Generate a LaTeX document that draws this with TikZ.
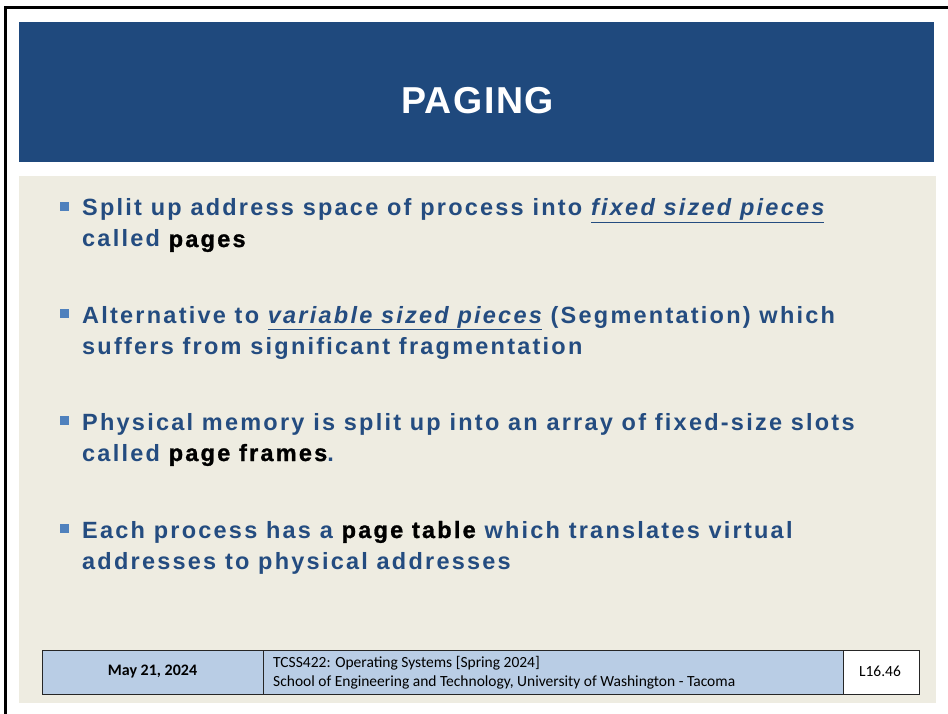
\documentclass[tikz,border=0pt]{standalone}
\usepackage{fontspec}
\setmainfont{Liberation Sans}
\newfontfamily\slidefont[LetterSpace=9.5]{Liberation Sans}
\newfontfamily\keyfont[LetterSpace=9.5,FakeBold=1.2]{Liberation Sans}
\newfontfamily\titlefont[LetterSpace=4]{Liberation Sans}
\newfontfamily\footfont{Carlito}

\definecolor{headblue}{HTML}{1F497D}
\definecolor{textblue}{HTML}{244C80}
\definecolor{markblue}{HTML}{4F81BD}
\definecolor{paper}{HTML}{EEECE1}
\definecolor{footblue}{HTML}{B9CDE5}

\newcommand{\key}[1]{{\keyfont\bfseries\color{black}#1}}
\newcommand{\itul}[1]{$\underline{\hbox{\itshape #1}}$}

\tikzset{
    line/.style={anchor=base west, inner sep=0pt, text=textblue, font=\slidefont\bfseries\fontsize{23.5}{27}\selectfont},
    mark/.style={fill=markblue},
    footcell/.style={draw=black!85, line width=0.8pt, fill=footblue},
    foottext/.style={inner sep=0pt, font=\footfont\fontsize{15.5}{18}\selectfont}
}

\begin{document}
\begin{tikzpicture}[x=1pt,y=-1pt]

    \useasboundingbox (0,0) rectangle (948,714);
    \fill[white] (0,0) rectangle (948,714);

    % frame, header, body
    \draw[line width=3pt] (5,714) -- (5,8) -- (948,8);
    \fill[headblue] (19,22) rectangle (934,162);
    \fill[paper] (19,176) rectangle (936,703);

    \node[inner sep=0pt, text=white, font=\titlefont\bfseries\fontsize{37.5}{42}\selectfont] (title) at (477.5,101) {PAGING};

    % bullets
    \foreach \y in {202,309,416,524} {
        \fill[markblue] (60,\y) rectangle (69,\y+9);
    }

    \node[line] (l1a) at (82,216) {Split up address space of process into \itul{fixed sized pieces}};
    \node[line] (l1b) at (82,247) {called \key{pages}};

    \node[line] (l2a) at (82,323) {Alternative to \itul{variable sized pieces} (Segmentation) which};
    \node[line] (l2b) at (82,354) {suffers from significant fragmentation};

    \node[line] (l3a) at (82,430) {Physical memory is split up into an array of fixed-size slots};
    \node[line] (l3b) at (82,461) {called \key{page frames}.};

    \node[line] (l4a) at (82,538) {Each process has a \key{page table} which translates virtual};
    \node[line] (l4b) at (82,569) {addresses to physical addresses};

    % footer
    \draw[footcell] (42,650) rectangle (263,694);
    \draw[footcell] (263,650) rectangle (843,694);
    \draw[footcell, fill=white] (843,650) rectangle (919,694);

    \node[foottext, font=\footfont\bfseries\fontsize{16}{18}\selectfont] (date) at (152.5,672) {May 21, 2024};
    \node[foottext, anchor=base west] (course) at (273,667) {TCSS422: Operating Systems [Spring 2024]};
    \node[foottext, anchor=base west] (school) at (273,686) {School of Engineering and Technology, University of Washington - Tacoma};
    \node[foottext] (slide) at (880,671) {L16.46};

\end{tikzpicture}
\end{document}
